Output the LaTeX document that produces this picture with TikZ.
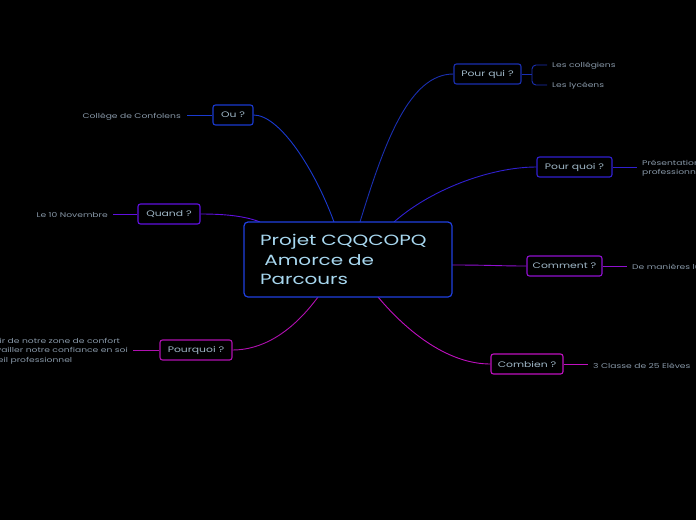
\documentclass[tikz,border=0pt]{standalone}
\usepackage{fontspec}
\setmainfont{Poppins}[FakeStretch=1.35]
\definecolor{cmain}{HTML}{2040E0}
\definecolor{cpqui}{HTML}{1A2FB0}
\definecolor{cou}{HTML}{1A3AD0}
\definecolor{cpquoi}{HTML}{3020D0}
\definecolor{cquand}{HTML}{6010E0}
\definecolor{ccomment}{HTML}{9010D0}
\definecolor{ccombien}{HTML}{C010C0}
\definecolor{cpourquoi}{HTML}{B010B0}
\definecolor{maintxt}{HTML}{A8D8F0}
\definecolor{subtxt}{HTML}{A0B8C8}
\definecolor{leaftxt}{HTML}{8898A8}
\begin{document}
\begin{tikzpicture}[x=1pt,y=-1pt,
  sub/.style={draw, rounded corners=2.5pt, line width=1.1pt, fill=black, text=subtxt,
    font=\fontsize{8}{10}\selectfont, inner sep=0pt, minimum height=20pt},
  leaf/.style={text=leaftxt, font=\fontsize{6.8}{9.5}\selectfont, inner sep=0pt},
  centre/.style={draw=cmain, line width=1.2pt, rounded corners=4pt, fill=black, text=maintxt,
    minimum width=208pt, minimum height=75pt, text width=176pt, inner xsep=16pt,
    align=left, font=\fontsize{14.8}{19.5}\selectfont},
  conn/.style={line width=0.9pt}]
\useasboundingbox (0,0) rectangle (696,520);
\fill[black] (0,0) rectangle (696,520);
\clip (0,0) rectangle (696,520);

% sub-topic nodes
\node[sub, draw=cpqui, minimum width=67pt] (pqui) at (487.5,74) {Pour qui ?};
\node[sub, draw=cpquoi, minimum width=75pt] (pquoi) at (574.5,167) {Pour quoi ?};
\node[sub, draw=ccomment, minimum width=75pt] (comm) at (564.5,266) {Comment ?};
\node[sub, draw=ccombien, minimum width=72pt] (comb) at (527,364) {Combien ?};
\node[sub, draw=cpourquoi, minimum width=72pt] (pourq) at (196,350) {Pourquoi ?};
\node[sub, draw=cquand, minimum width=62pt] (quand) at (169,214) {Quand ?};
\node[sub, draw=cou, minimum width=40pt] (ou) at (233,115) {Ou ?};

\coordinate (cou1) at (334,222);
\coordinate (cpqui1) at (360,222);
\coordinate (cpquoi1) at (394,222);
\coordinate (cquand1) at (260,222);
\coordinate (ccomm1) at (452,265);
\coordinate (ccomb1) at (378,297);
\coordinate (cpourq1) at (318,297);

\draw[conn, cou] (ou.east) .. controls (280,115) and (315,170) .. (cou1);
\draw[conn, cpqui] (cpqui1) .. controls (385,140) and (410,74) .. (pqui.west);
\draw[conn, cpquoi] (cpquoi1) .. controls (430,190) and (490,167) .. (pquoi.west);
\draw[conn, ccomment] (ccomm1) .. controls (490,265) and (500,266) .. (comm.west);
\draw[conn, ccombien] (ccomb1) .. controls (410,335) and (450,364) .. (comb.west);
\draw[conn, cpourquoi] (cpourq1) .. controls (290,335) and (260,350) .. (pourq.east);
\draw[conn, cquand] (quand.east) .. controls (225,214) and (245,216) .. (cquand1);

% center node on top of connectors
\node[centre] (c) at (348,259.5)
  {Projet CQQCOPQ\\\hspace*{0.3em}Amorce de\\Parcours};

% leaves
\node[leaf, anchor=west] (l1) at (552,66) {Les collégiens};
\node[leaf, anchor=west] (l2) at (552,86) {Les lycéens};
\coordinate (br) at (532,74);
\coordinate (b1) at (547,65);
\coordinate (b2) at (547,85);
\draw[conn, cpqui] (pqui.east) -- (br);
\draw[conn, cpqui, rounded corners=4pt] (b1) -| (br) |- (b2);

\node[leaf, anchor=west, align=left] (l3) at (642,168) {Présentation\\professionnelle};
\coordinate (e3) at (637,167);
\draw[conn, cpquoi] (pquoi.east) -- (e3);

\node[leaf, anchor=west] (l4) at (632,267.5) {De manières ludiques};
\coordinate (e4) at (627,266);
\draw[conn, ccomment] (comm.east) -- (e4);

\node[leaf, anchor=west] (l5) at (593,365.5) {3 Classe de 25 Elèves};
\coordinate (e5) at (588,364);
\draw[conn, ccombien] (comb.east) -- (e5);

\node[leaf, anchor=east, align=left] (l6) at (128,351) {Sortir de notre zone de confort\\Travailler notre confiance en soi\\Réveil professionnel};
\coordinate (e6) at (133,350);
\draw[conn, cpourquoi] (e6) -- (pourq.west);

\node[leaf, anchor=east] (l7) at (108,215) {Le 10 Novembre};
\coordinate (e7) at (113,214);
\draw[conn, cquand] (e7) -- (quand.west);

\node[leaf, anchor=east] (l8) at (181,116.5) {Collège de Confolens};
\coordinate (e8) at (187,115);
\draw[conn, cou] (e8) -- (ou.west);
\end{tikzpicture}
\end{document}
